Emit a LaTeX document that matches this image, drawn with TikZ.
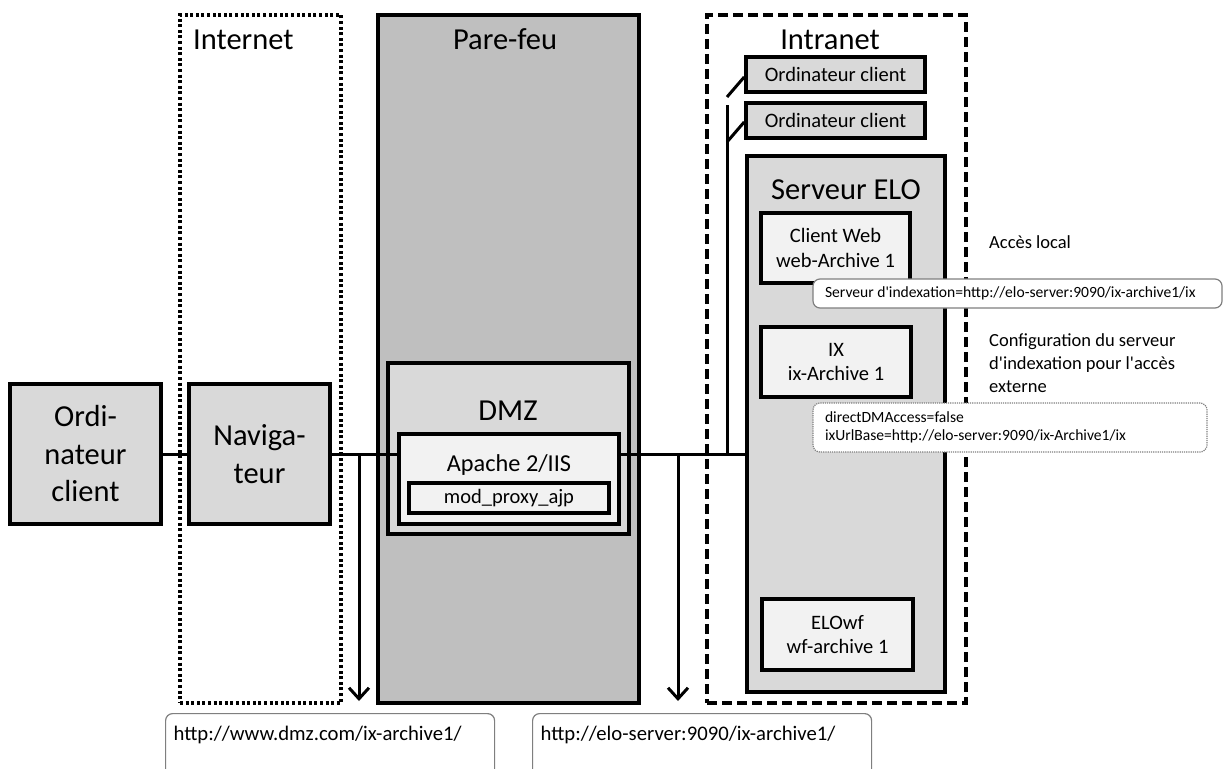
\documentclass[tikz,border=0pt]{standalone}
\usepackage{fontspec}
\setmainfont{Carlito}
\usetikzlibrary{arrows.meta}
\definecolor{fwgray}{HTML}{BFBFBF}
\definecolor{boxgray}{HTML}{D9D9D9}
\definecolor{palegray}{HTML}{F2F2F2}
\definecolor{notegray}{HTML}{7F7F7F}
\begin{document}
\begin{tikzpicture}[x=1pt, y=-1pt,
                zone/.style = {draw, line width=3.2pt, inner sep=0pt},
                box/.style = {draw, line width=3.6pt, fill=boxgray, inner sep=0pt, align=center},
                inbox/.style = {box, fill=palegray},
                note/.style = {draw=notegray, line width=1.2pt, rounded corners=7pt, fill=white, inner xsep=12pt, inner ysep=3pt, align=flush left},
                link/.style = {draw, line width=3pt},
                arr/.style = {link, -{Straight Barb[length=11pt, width=20pt]}},
                bigtext/.style = {font=\fontsize{30.5}{37.5}\selectfont, inner sep=0pt},
                midtext/.style = {font=\fontsize{24.3}{29}\selectfont, inner sep=0pt},
                boxtext/.style = {font=\fontsize{20.5}{24.5}\selectfont},
                sidetext/.style = {font=\fontsize{18.5}{23.3}\selectfont, inner sep=0pt, align=left},
                notetext/.style = {font=\fontsize{15.6}{18.6}\selectfont},
                urltext/.style = {font=\fontsize{20.7}{24}\selectfont},
            ]
            \useasboundingbox (0,0) rectangle (1228,768);
            \clip (0,0) rectangle (1228,768);

            % zones
            \node (inet) [zone, dash pattern=on 3pt off 2.6pt, minimum width=161pt, minimum height=688pt] at (260.5,359){};
            \node (fw) [zone, line width=3.6pt, fill=fwgray, minimum width=261pt, minimum height=688pt] at (508.5,359){};
            \node (intra) [zone, dash pattern=on 10pt off 5pt, minimum width=259pt, minimum height=688pt] at (836.5,359){};
            \node (inetl) [bigtext, anchor=base west] at (193,50){Internet};
            \node (fwl) [bigtext, anchor=base] at (505,50){Pare-feu};
            \node (intral) [bigtext, anchor=base] at (830,50){Intranet};

            % client and browser
            \node (oc) [box, bigtext, minimum width=151pt, minimum height=140pt] at (85.5,454){Ordi-\\nateur\\client};
            \node (nav) [box, bigtext, minimum width=141pt, minimum height=140pt] at (259.5,454){Naviga-\\teur};

            % dmz
            \node (dmz) [box, minimum width=241pt, minimum height=171pt] at (508.5,448.5){};
            \node (dmzl) [bigtext, anchor=base] at (508,420){DMZ};
            \node (apache) [inbox, minimum width=220pt, minimum height=90pt] at (509,479){};
            \node (apachel) [midtext, anchor=base] at (509,471){Apache 2/IIS};
            \node (mod) [inbox, boxtext, minimum width=200pt, minimum height=30pt] at (509,498){mod\_proxy\_ajp};

            % intranet
            \node (oc1) [box, boxtext, minimum width=179pt, minimum height=35pt] at (835.5,74.5){Ordinateur client};
            \node (oc2) [box, boxtext, minimum width=179pt, minimum height=35pt] at (835.5,120.5){Ordinateur client};
            \node (elo) [box, minimum width=198pt, minimum height=536pt] at (846,424){};
            \node (elol) [bigtext, anchor=base] at (846,199){Serveur ELO};
            \node (web) [inbox, boxtext, minimum width=149pt, minimum height=70pt] at (835.5,248){Client Web\\web-Archive 1};
            \node (ix) [inbox, boxtext, minimum width=150pt, minimum height=70pt] at (836,362){IX\\ix-Archive 1};
            \node (wf) [inbox, boxtext, minimum width=151pt, minimum height=71pt] at (837.5,634.5){ELOwf\\wf-archive 1};

            \coordinate (tap1) at (359,454);
            \coordinate (end1) at (359,701);
            \coordinate (tap2) at (678,454);
            \coordinate (end2) at (678,701);
            \coordinate (lan) at (727,454);
            \coordinate (lantop) at (727,105);
            \coordinate (lan1) at (727,97);
            \coordinate (lan2) at (727,142);

            \path[link] (oc) -- (nav);
            \path[link] (nav) -- (nav -| apache.west);
            \path[link] (nav -| apache.east) -- (nav -| elo.west);
            \path[arr] (tap1) -- (end1);
            \path[arr] (tap2) -- (end2);
            \path[link] (lan) -- (lantop);
            \path[link] (lan1) -- ([yshift=-2.5pt]oc1.west);
            \path[link] (lan2) -- ([yshift=-1.5pt]oc2.west);

            % notes
            \node (acces) [sidetext, anchor=base west] at (989,248){Accès local};
            \node (config) [sidetext, anchor=north west] at (989,333){Configuration du serveur\\d\textquotesingle indexation pour l\textquotesingle accès\\externe};
            \node (n1) [note, notetext, text width=385pt, minimum height=29pt] at (1017.5,293.5){Serveur d\textquotesingle indexation=http://elo-server:9090/ix-archive1/ix};
            \node (n2) [note, notetext, densely dotted, text width=370pt, minimum height=49pt] at (1010,427.5){directDMAccess=false\\ixUrlBase=http://elo-server:9090/ix-Archive1/ix};
            \node (u1) [note, urltext, anchor=north west, text width=313pt, inner xsep=8pt, inner ysep=0pt, text height=27pt, text depth=50pt] at (165,713){http://www.dmz.com/ix-archive1/};
            \node (u2) [note, urltext, anchor=north west, text width=323pt, inner xsep=8pt, inner ysep=0pt, text height=27pt, text depth=50pt] at (532,713){http://elo-server:9090/ix-archive1/};
        \end{tikzpicture}
\end{document}
